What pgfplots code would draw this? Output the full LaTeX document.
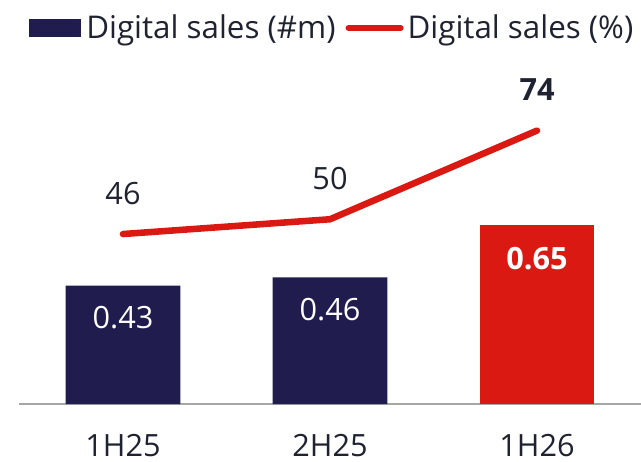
\documentclass[border=0pt]{standalone}
\usepackage{pgfplots}
\pgfplotsset{compat=1.18}
\usepackage{fontspec}
\setmainfont{Open Sans}
\definecolor{navy}{HTML}{201C4E}
\definecolor{brandred}{HTML}{DA1912}
\definecolor{ink}{HTML}{1F2230}
\definecolor{axisgray}{HTML}{A6A6A6}

\begin{document}
\begin{tikzpicture}[font=\fontsize{23}{27}\selectfont, text=ink]
% bars: digital sales in millions
\begin{axis}[
  at={(14.625pt,42.75pt)}, anchor=south west,
  scale only axis, width=465.75pt, height=258pt,
  xmin=-0.5, xmax=2.5, ymin=0, ymax=1.25,
  ybar, bar width=85.9pt,
  axis x line=bottom, axis y line=none,
  x axis line style={-, axisgray, line width=1.5pt},
  xtick={0,1,2}, xticklabels={1H25,2H25,1H26},
  major tick length=0pt,
  xticklabel style={inner sep=0pt, anchor=north, yshift=-22.5pt, text=ink},
  ytick=\empty,
  clip=false,
  point meta=explicit symbolic,
  nodes near coords,
]
\addplot[fill=navy, draw=none, bar shift=0pt,
  every node near coord/.append style={anchor=center, yshift=-24pt, text=white}]
  table[meta=lab] {
x y lab
0 0.43 0.43
1 0.46 0.46
};
\addplot[fill=brandred, draw=none, bar shift=0pt,
  every node near coord/.append style={anchor=center, yshift=-25pt, text=white, font=\fontsize{23}{27}\selectfont\bfseries}]
  table[meta=lab] {
x y lab
2 0.65 0.65
};
\end{axis}
% line: digital sales share in percent
\begin{axis}[
  at={(14.625pt,42.75pt)}, anchor=south west,
  scale only axis, width=465.75pt, height=258pt,
  xmin=-0.5, xmax=2.5, ymin=0, ymax=93.1,
  axis lines=none, clip=false,
  point meta=explicit symbolic,
  legend columns=-1,
  legend cell align=left,
  legend style={draw=none, fill=none, inner sep=0pt,
    at={(0.0153,1.093)}, anchor=west,
    font=\fontsize{23.5}{27}\selectfont,
    nodes={inner sep=0pt, text=ink}},
]
\addlegendimage{legend image code/.code={
  \fill[navy, draw=none] (0pt,-7.1pt) rectangle (39pt,7.1pt);
  \path[draw=none, fill=none] (0pt,0pt) rectangle (42.75pt,0pt);}}
\addlegendentry{Digital sales (\#m)}
\addplot[brandred, line width=4.9pt, line cap=round, line join=round,
  nodes near coords,
  every node near coord/.append style={anchor=base, yshift=22.5pt, text=ink},
  legend image code/.code={
    \path[draw=none, fill=none] (0pt,0pt) rectangle (54pt,0pt);
    \draw[brandred, line width=4.9pt, line cap=round] (9.9pt,0pt) -- (48.6pt,0pt);}]
  table[meta=lab] {
x y lab
0 46 46
1 50 50
2 74 \textbf{74}
};
\addlegendentry{Digital sales (\%)}
\end{axis}
\pgfresetboundingbox
\useasboundingbox (0,0) rectangle (480.75pt,345.75pt);
\end{tikzpicture}
\end{document}
